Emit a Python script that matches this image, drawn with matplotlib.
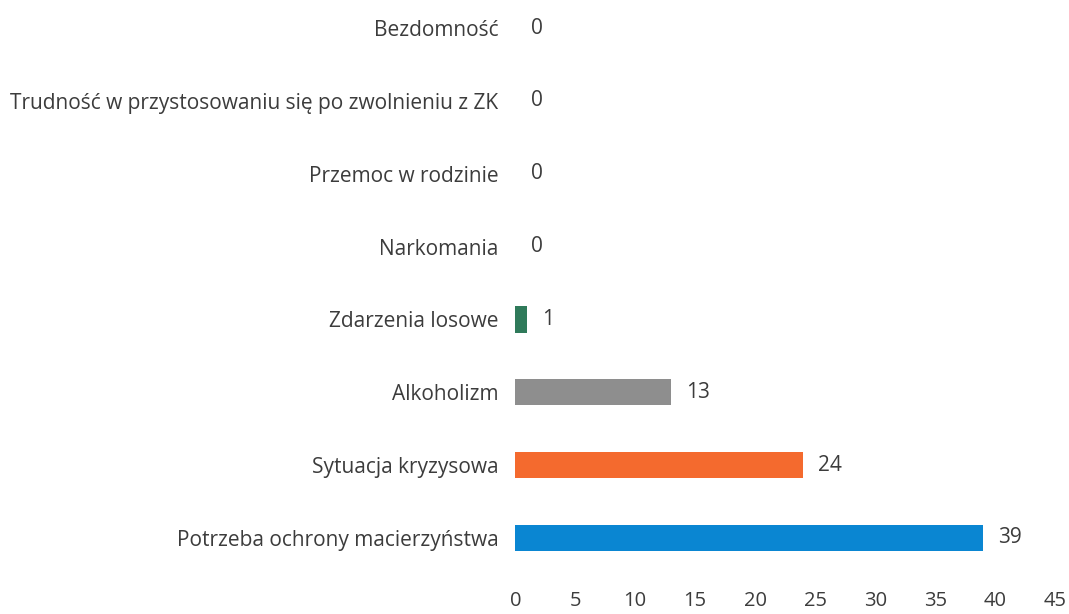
import matplotlib.pyplot as plt

# Dane z wykresu (od dołu do góry)
kategorie = ['Potrzeba ochrony macierzyństwa', 'Sytuacja kryzysowa', 'Alkoholizm',
             'Zdarzenia losowe', 'Narkomania', 'Przemoc w rodzinie',
             'Trudność w przystosowaniu się po zwolnieniu z ZK', 'Bezdomność']
wartosci = [39, 24, 13, 1, 0, 0, 0, 0]
kolory = ['#0A86D2', '#F46A2E', '#8E8E8E', '#2F7A5A', '#888888', '#888888', '#888888', '#888888']
x_ticki = [0, 5, 10, 15, 20, 25, 30, 35, 40, 45]

plt.rcParams['font.family'] = ['Open Sans', 'DejaVu Sans']
tekst = '#3C3C3C'
rozmiar = 15

fig = plt.figure(figsize=(10.69, 6.14), dpi=100)
ax = fig.add_axes([0.482, 0.0645, 0.505, 0.949])

pozycje = list(range(len(kategorie)))
ax.barh(pozycje, wartosci, height=0.36, color=kolory)

for y, v in zip(pozycje, wartosci):
    ax.annotate(str(v), (v, y), xytext=(11, 0), textcoords='offset points',
                va='center', ha='left', fontsize=rozmiar, color=tekst)

ax.set_xlim(0, 45)
ax.set_ylim(-0.5, 7.5)
ax.set_xticks(x_ticki)
ax.set_yticks(pozycje)
ax.set_yticklabels(kategorie)
ax.tick_params(axis='y', length=0, pad=12, labelsize=rozmiar, labelcolor=tekst)
ax.tick_params(axis='x', length=0, pad=12, labelsize=14.5, labelcolor=tekst)
for s in ax.spines.values():
    s.set_visible(False)

fig.savefig('out.png', dpi=100)
